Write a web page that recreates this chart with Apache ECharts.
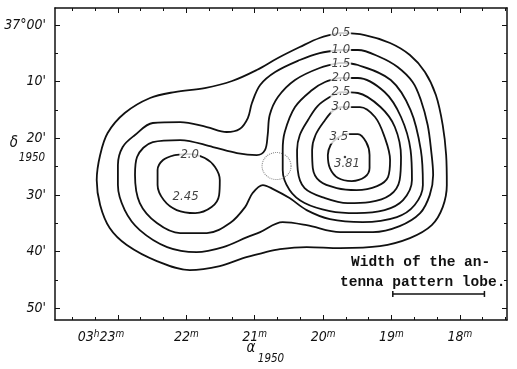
<!DOCTYPE html>
<html><head><meta charset="utf-8">
<script src="https://cdn.jsdelivr.net/npm/echarts@6/dist/echarts.min.js"></script>
<style>html,body{margin:0;padding:0;background:#fff}#c{width:517px;height:369px}</style>
</head><body><div id="c"></div>
<script>
// ---- axes (RA in minutes of 03h, Dec in arcminutes below 37°00') ----
const RA_TICKS = [23, 22, 21, 20, 19, 18];
const RA_TICK_LABELS = ['{n|03}{s|h}{n|23}{s|m}{p| }', '{n|22}{s|m}', '{n|21}{s|m}', '{n|20}{s|m}', '{n|19}{s|m}', '{n|18}{s|m}'];
const RA_MINOR = [23.6667, 23.3333, 22.6667, 22.3333, 21.6667, 21.3333, 20.6667, 20.3333, 19.6667, 19.3333, 18.6667, 18.3333, 17.6667, 17.3333];
const DEC_TICKS = [0, 10, 20, 30, 40, 50];
const DEC_TICK_LABELS = ["37°00'", "10'", "20'", "30'", "40'", "50'"];
const DEC_MINOR = [5, 15, 25, 35, 45];

// ---- contour lines [RA min, Dec arcmin] ----
const C05 = [[19.75,1.41],[19.39,1.77],[19.02,3.18],[18.73,5.30],[18.51,8.30],[18.35,12.37],[18.25,17.67],[18.20,22.97],[18.19,28.27],[18.25,32.16],[18.41,35.34],[18.73,37.63],[19.17,39.05],[19.75,39.40],[20.24,39.22],[20.63,39.58],[20.89,40.28],[21.17,41.17],[21.51,42.58],[21.95,43.29],[22.43,41.70],[22.87,38.87],[23.12,35.87],[23.26,31.80],[23.31,27.39],[23.26,22.97],[23.15,19.08],[22.90,15.55],[22.53,12.90],[22.17,11.84],[21.73,11.13],[21.33,9.89],[20.97,7.95],[20.66,5.83],[20.34,3.89],[20.05,2.30],[19.75,1.41]];
const C10 = [[19.75,4.42],[19.49,4.42],[19.17,5.65],[18.91,7.42],[18.69,10.07],[18.57,13.25],[18.47,17.67],[18.42,22.09],[18.39,26.50],[18.44,30.04],[18.58,33.22],[18.88,35.51],[19.27,36.57],[19.75,36.57],[20.24,35.34],[20.59,34.81],[20.92,36.57],[21.11,37.46],[21.46,39.22],[21.85,40.11],[22.28,39.22],[22.68,36.22],[22.90,32.69],[23.00,28.27],[23.00,24.74],[22.93,21.55],[22.75,19.43],[22.49,17.31],[22.09,17.14],[21.70,18.02],[21.41,18.90],[21.22,18.37],[21.10,16.43],[21.04,13.78],[20.92,10.60],[20.70,8.30],[20.34,6.18],[20.05,4.95],[19.75,4.42]];
const C15 = [[19.75,6.71],[19.49,7.07],[19.01,9.72],[18.72,15.02],[18.57,22.09],[18.54,28.27],[18.66,31.80],[18.92,33.92],[19.42,34.81],[19.90,34.28],[20.24,32.69],[20.49,30.57],[20.73,28.98],[20.88,28.27],[21.03,29.68],[21.14,32.16],[21.36,34.98],[21.70,36.75],[22.09,36.75],[22.43,34.98],[22.68,31.45],[22.75,26.50],[22.72,23.32],[22.49,20.67],[22.09,20.32],[21.61,21.55],[21.26,22.61],[20.97,22.97],[20.85,22.09],[20.81,19.43],[20.78,15.90],[20.66,12.72],[20.41,9.72],[20.05,7.60],[19.75,6.71]];
const C20R = [[19.75,9.36],[19.49,9.36],[19.10,11.84],[18.86,16.25],[18.72,22.09],[18.70,27.39],[18.83,30.92],[19.10,32.69],[19.51,33.22],[19.90,32.86],[20.27,31.45],[20.49,29.15],[20.59,25.62],[20.59,22.09],[20.56,18.90],[20.41,14.49],[20.16,11.48],[19.97,10.07],[19.75,9.36]];
const C20L = [[22.17,22.97],[21.95,22.79],[21.73,23.50],[21.58,25.09],[21.51,27.39],[21.52,30.04],[21.63,32.16],[21.87,33.22],[22.14,32.69],[22.33,30.92],[22.42,28.27],[22.42,25.62],[22.34,23.85],[22.17,22.97]];
const C25 = [[19.75,11.84],[19.49,12.01],[19.16,14.49],[18.95,18.02],[18.86,23.32],[18.88,27.39],[19.02,30.04],[19.32,31.27],[19.64,31.45],[19.97,30.57],[20.27,28.80],[20.37,25.62],[20.38,22.09],[20.34,19.43],[20.22,16.78],[20.08,14.31],[19.90,12.72],[19.75,11.84]];
const C30 = [[19.75,14.49],[19.46,14.49],[19.24,16.25],[19.10,19.79],[19.02,23.85],[19.05,26.86],[19.21,28.45],[19.51,29.15],[19.80,28.80],[20.05,27.56],[20.15,25.27],[20.16,22.09],[20.11,19.43],[19.97,16.78],[19.86,15.19],[19.75,14.49]];
const C35 = [[19.68,19.26],[19.49,19.26],[19.37,20.67],[19.32,22.97],[19.32,25.27],[19.39,26.86],[19.58,27.56],[19.78,27.03],[19.90,25.27],[19.93,22.97],[19.89,21.20],[19.81,20.14],[19.68,19.26]];

// ---- contour labels: [text, RA, Dec] ----
const LABEL_TEXT = ['0.5', '1.0', '1.5', '2.0', '2.5', '3.0', '3.5', '3.81', '2.0', '2.45'];
const LABEL_RA   = [19.74, 19.74, 19.74, 19.74, 19.74, 19.74, 19.77, 19.65, 21.95, 22.01];
const LABEL_DEC  = [1.41, 4.42, 6.89, 9.36, 11.84, 14.49, 19.79, 24.56, 22.97, 30.39];

const SOURCE_CIRCLE = [20.68, 24.91];
const PEAK = [19.68, 23.32];
const BEAM = [[18.98, 47.5], [17.64, 47.5]];

const XMIN = 17.31, XMAX = 23.92, YMIN = -3.0, YMAX = 52.1;
const F = "'Liberation Sans Narrow','DejaVu Sans Condensed','Liberation Sans',sans-serif";
const INK = '#111';

const chart = echarts.init(document.getElementById('c'), null, {renderer: 'canvas'});

function xAxisDef(pos, ticks, len, showLine, showLabel) {
  return {
    type: 'value', position: pos, inverse: true, min: XMIN, max: XMAX,
    axisLine: {show: showLine, onZero: false, lineStyle: {color: INK, width: 1.5}},
    axisTick: {show: true, inside: true, length: len, customValues: ticks, lineStyle: {color: INK, width: 1}},
    axisLabel: showLabel ? {
      show: true, customValues: ticks, margin: 9, color: INK,
      formatter: v => { const i = RA_TICKS.findIndex(t => Math.abs(t - v) < 1e-6); return i >= 0 ? RA_TICK_LABELS[i] : ''; },
      rich: {
        n: {fontSize: 14, fontStyle: 'italic', fontFamily: F, color: INK, lineHeight: 16},
        s: {fontSize: 10, fontStyle: 'italic', fontFamily: F, color: INK, verticalAlign: 'top'},
        p: {width: 34, fontSize: 10}
      }
    } : {show: false},
    splitLine: {show: false}
  };
}
function yAxisDef(pos, ticks, len, showLine, showLabel) {
  return {
    type: 'value', position: pos, inverse: true, min: YMIN, max: YMAX,
    axisLine: {show: showLine, onZero: false, lineStyle: {color: INK, width: 1.5}},
    axisTick: {show: true, inside: true, length: len, customValues: ticks, lineStyle: {color: INK, width: 1}},
    axisLabel: showLabel ? {
      show: true, customValues: ticks, margin: 9, color: INK, fontSize: 14, fontStyle: 'italic', fontFamily: F,
      formatter: v => { const i = DEC_TICKS.findIndex(t => Math.abs(t - v) < 1e-6); return i >= 0 ? DEC_TICK_LABELS[i] : ''; }
    } : {show: false},
    splitLine: {show: false}
  };
}

function contour(data) {
  return {type: 'line', data: data, smooth: 0.35, symbol: 'none', xAxisIndex: 0, yAxisIndex: 0,
    lineStyle: {color: INK, width: 1.8}, z: 2, silent: true};
}

const labelData = LABEL_TEXT.map((t, i) => ({name: t, value: [LABEL_RA[i], LABEL_DEC[i]]}));

chart.setOption({
  animation: false,
  backgroundColor: '#fff',
  grid: {left: 55, right: 10, top: 8, bottom: 49, containLabel: false, outerBoundsMode: 'none'},
  xAxis: [
    xAxisDef('bottom', RA_TICKS, 5, true, true),
    xAxisDef('bottom', RA_MINOR, 3, false, false),
    xAxisDef('top', RA_TICKS, 5, true, false),
    xAxisDef('top', RA_MINOR, 3, false, false)
  ],
  yAxis: [
    yAxisDef('left', DEC_TICKS, 5, true, true),
    yAxisDef('left', DEC_MINOR, 3, false, false),
    yAxisDef('right', DEC_TICKS, 5, true, false),
    yAxisDef('right', DEC_MINOR, 3, false, false)
  ],
  series: [
    contour(C05), contour(C10), contour(C15), contour(C20R), contour(C20L),
    contour(C25), contour(C30), contour(C35),
    {type: 'scatter', data: labelData, symbolSize: 1, itemStyle: {color: 'rgba(0,0,0,0)'}, z: 5, silent: true,
     label: {show: true, position: 'inside', formatter: p => p.name, color: INK, fontSize: 13,
             fontStyle: 'italic', fontFamily: F, backgroundColor: '#fff', padding: [0, 1]}},
    {type: 'scatter', data: [SOURCE_CIRCLE], symbol: 'circle', symbolSize: [29, 27], z: 3, silent: true,
     itemStyle: {color: 'rgba(0,0,0,0)', borderColor: '#666', borderWidth: 1, borderType: 'dotted'}},
    {type: 'scatter', data: [PEAK], symbolSize: 2.5, z: 6, silent: true, itemStyle: {color: INK}},
    {type: 'line', data: BEAM, symbol: 'rect', symbolSize: [1.5, 6], z: 4, silent: true,
     lineStyle: {color: INK, width: 1.5}, itemStyle: {color: INK}}
  ],
  graphic: [
    {type: 'text', x: 14, y: 143, style: {text: 'δ', fontSize: 15, fontStyle: 'italic', fontFamily: F, fill: INK, align: 'center', verticalAlign: 'middle'}},
    {type: 'text', x: 32, y: 158, style: {text: '1950', fontSize: 11.5, fontStyle: 'italic', fontFamily: F, fill: INK, align: 'center', verticalAlign: 'middle'}},
    {type: 'text', x: 251, y: 348, style: {text: 'α', fontSize: 15, fontStyle: 'italic', fontFamily: F, fill: INK, align: 'center', verticalAlign: 'middle'}},
    {type: 'text', x: 271, y: 359, style: {text: '1950', fontSize: 11.5, fontStyle: 'italic', fontFamily: F, fill: INK, align: 'center', verticalAlign: 'middle'}},
    {type: 'text', x: 351, y: 262, style: {text: 'Width of the an-', fontSize: 14.5, fontWeight: 'bold', fontFamily: "'Liberation Mono','DejaVu Sans Mono',monospace", fill: INK, align: 'left', verticalAlign: 'middle'}},
    {type: 'text', x: 340, y: 282, style: {text: 'tenna pattern lobe.', fontSize: 14.5, fontWeight: 'bold', fontFamily: "'Liberation Mono','DejaVu Sans Mono',monospace", fill: INK, align: 'left', verticalAlign: 'middle'}}
  ]
});
</script></body></html>
